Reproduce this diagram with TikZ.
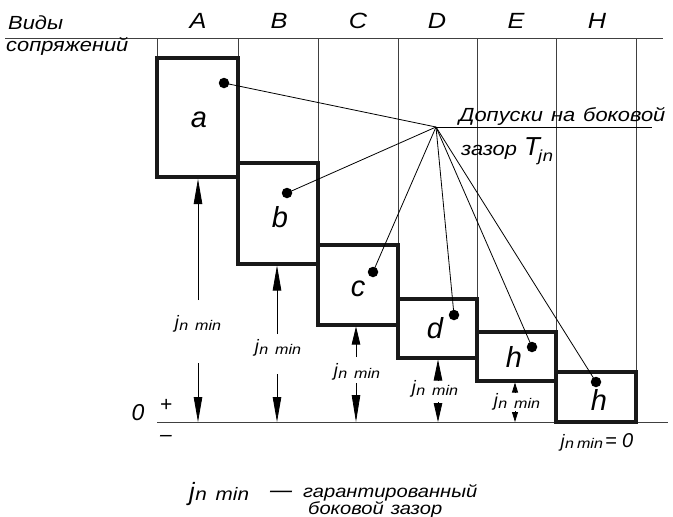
\documentclass[tikz,border=0pt]{standalone}
\usepackage{fontspec}
\setmainfont{Liberation Sans}
\newfontfamily\wB[FakeStretch=1.15]{Liberation Sans}
\usetikzlibrary{arrows.meta}
\newcommand{\fs}[1]{\fontsize{#1}{#1}\selectfont\itshape}
\newcommand{\fb}[1]{\wB\fontsize{#1}{#1}\selectfont\itshape}
\newcommand{\jnlbl}{{\fs{18}j}\hspace{0.5pt}\raisebox{-2.5pt}{\fb{14}n\hspace{7pt}min}}
\begin{document}
\begin{tikzpicture}[x=1pt,y=-1pt,
  thinln/.style={line width=0.9pt, black!75},
  boxln/.style={line width=3.2pt, black!90, line join=miter},
  conn/.style={line width=0.8pt, black},
  dotn/.style={circle, fill=black, inner sep=0pt, minimum size=10.5pt},
  dimarr/.style={line width=0.8pt, -{Triangle[length=#1,width=8.5pt]}},
  dimarr/.default=25pt,
  smallarr/.style={line width=0.8pt, -{Triangle[length=10pt,width=6pt]}},
  txt/.style={inner sep=0pt, anchor=base},
  boxlbl/.style={txt, font=\fs{29}},
  collbl/.style={txt, font=\fb{22}},
  dimlbl/.style={txt}]
\useasboundingbox (0,0) rectangle (673,517);
% header
\draw[thinln] (5,38) -- (663,38);
\node[txt, anchor=base west, font=\fb{19}] (vidy) at (8,29) {Виды};
\node[txt, anchor=base west, font=\fb{19}] (sopr) at (6,51) {сопряжений};
\node[collbl] (cA) at (198,28) {A};
\node[collbl] (cB) at (279,28) {B};
\node[collbl] (cC) at (358,28) {C};
\node[collbl] (cD) at (437,28) {D};
\node[collbl] (cE) at (516,28) {E};
\node[collbl] (cH) at (597,28) {H};
% column lines
\draw[thinln] (157,38) -- (157,58);
\draw[thinln] (238,38) -- (238,163);
\draw[thinln] (318,38) -- (318,245);
\draw[thinln] (398,38) -- (398,299);
\draw[thinln] (477,38) -- (477,332);
\draw[thinln] (556,38) -- (556,372);
\draw[thinln] (636,38) -- (636,372);
% zero line
\draw[thinln] (157,422) -- (668,422);
\node[txt, font=\fs{23}] (zero) at (138,420) {0};
\node[txt, font=\fs{21}] (plus) at (166,411) {+};
\node[txt, font=\fs{21}] (minus) at (166,441) {–};
% boxes
\draw[boxln] (157,58) rectangle (238,177);
\draw[boxln] (238,163) rectangle (318,264);
\draw[boxln] (318,245) rectangle (398,325);
\draw[boxln] (398,299) rectangle (477,358);
\draw[boxln] (477,332) rectangle (556,381);
\draw[boxln] (556,372) rectangle (636,422);
\node[boxlbl] (la) at (199,127) {a};
\node[boxlbl] (lb) at (280,227) {b};
\node[boxlbl] (lc) at (358,296) {c};
\node[boxlbl] (ld) at (435,338) {d};
\node[boxlbl] (le) at (514,367) {h};
\node[boxlbl] (lh) at (599,410) {h};
% dots and connectors
\coordinate (F) at (436,127);
\node[dotn] (da) at (224,83) {};
\node[dotn] (db) at (287,193) {};
\node[dotn] (dc) at (373,272) {};
\node[dotn] (dd) at (454,315) {};
\node[dotn] (de) at (532,347) {};
\node[dotn] (dh) at (596,382) {};
\foreach \d in {da,db,dc,dd,de,dh} \draw[conn] (\d.center) -- (F);
\coordinate (Fend) at (652,127);
\draw[conn] (F) -- (Fend);
\node[txt, anchor=base west, font=\fb{19}] (tol1) at (459,121) {Допуски\hspace{8pt}на\hspace{8pt}боковой};
\node[txt, anchor=base west, font=\fb{19}] (tol2) at (461,155) {зазор};
\node[txt, anchor=base west, font=\fs{26}] (tolT) at (524,155) {T};
\node[txt, anchor=base west] (tolj) at (538,161) {{\fb{16}j\hspace{0.5pt}n}};
% dimension arrows
\coordinate (A0) at (198,300); \coordinate (A1) at (198,179);
\coordinate (A2) at (198,363); \coordinate (A3) at (198,422);
\draw[dimarr] (A0) -- (A1); \draw[dimarr] (A2) -- (A3);
\node[dimlbl] (jA) at (198,328) {\jnlbl};
\coordinate (B0) at (277,334); \coordinate (B1) at (277,265.5);
\coordinate (B2) at (277,374); \coordinate (B3) at (277,422);
\draw[dimarr] (B0) -- (B1); \draw[dimarr] (B2) -- (B3);
\node[dimlbl] (jB) at (278,352) {\jnlbl};
\coordinate (C0) at (356,357); \coordinate (C1) at (356,326.5);
\coordinate (C2) at (356,383); \coordinate (C3) at (356,422);
\draw[dimarr=18pt] (C0) -- (C1); \draw[dimarr=27pt] (C2) -- (C3);
\node[dimlbl] (jC) at (357,376) {\jnlbl};
\coordinate (D0) at (438,381); \coordinate (D1) at (438,359.5);
\coordinate (D2) at (438,402); \coordinate (D3) at (438,422);
\draw[dimarr=21pt] (D0) -- (D1); \draw[dimarr=19pt] (D2) -- (D3);
\node[dimlbl] (jD) at (435,393) {\jnlbl};
\coordinate (E0) at (515,393); \coordinate (E1) at (515,382.5);
\coordinate (E2) at (515,411); \coordinate (E3) at (515,422);
\draw[smallarr] (E0) -- (E1); \draw[smallarr] (E2) -- (E3);
\node[dimlbl] (jE) at (517,406) {\jnlbl};
\node[txt] (jH) at (597,447) {{\fs{18}j}\hspace{0.5pt}\raisebox{-1.5pt}{\fb{14}n\hspace{3pt}min}\hspace{2pt}{\fs{20}= 0}};
% legend
\node[txt, anchor=base west] (lg1) at (189,500) {{\fs{25}j}\hspace{0.5pt}\raisebox{0pt}{\fb{18}n\hspace{9pt}min}};
\node[txt, anchor=base west, font=\fs{22}] (lgd) at (270,497) {—};
\node[txt, anchor=base west, font=\fb{17.5}] (lg2) at (303,497) {гарантированный};
\node[txt, anchor=base west, font=\fb{17.5}] (lg3) at (308,514) {боковой\hspace{7pt}зазор};
\end{tikzpicture}
\end{document}
